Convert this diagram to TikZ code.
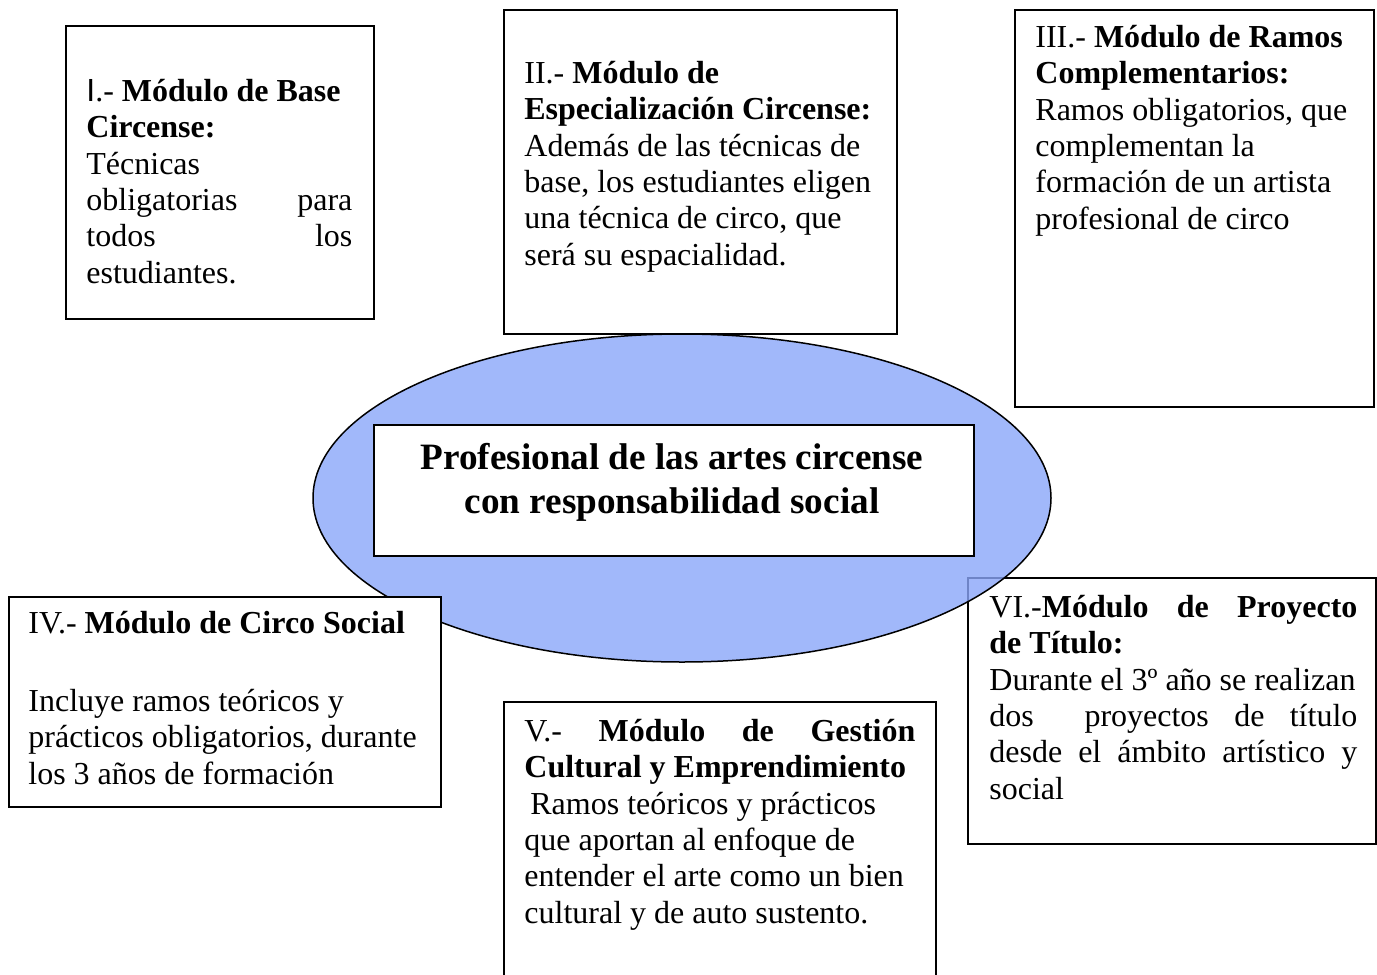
\documentclass[tikz,border=0pt]{standalone}
\usepackage{fontspec}
\setmainfont{Liberation Serif}
\newfontfamily\sanscap{Liberation Sans}
\usepackage{xcolor}
\usepackage{tikz}
\usetikzlibrary{shapes.geometric,positioning,calc}

\definecolor{ringblue}{RGB}{138,166,249}
\tikzset{
  modbox/.style={draw=black,line width=1pt,fill=white,anchor=north west,inner sep=0pt},
  modtext/.style={anchor=north west,inner sep=0pt,align=flush left,font=\fontsize{16}{18.2}\selectfont},
  titletext/.style={anchor=north,inner sep=0pt,align=center,font=\fontsize{18.6}{22}\selectfont\bfseries}
}

\begin{document}
\begin{tikzpicture}[x=0.5pt,y=-0.5pt]
            \useasboundingbox (0,0) rectangle (1377,975);
            % module VI lies under the ellipse
            \node[modbox,minimum width=204pt,minimum height=133pt] (boxVI) at (967,577) {};
            \node[modtext,text width=184pt] (txtVI) at ($(boxVI.north west)+(22,14.5)$)
              {\strut VI.-\textbf{Módulo}\hfill\textbf{de}\hfill\textbf{Proyecto}\\
               \textbf{de Título:}\\
               \mbox{Durante el 3º año se realizan}\\
               dos\hfill\hfill proyectos\hfill de\hfill título\\
               desde\hfill el\hfill ámbito\hfill artístico\hfill y\\
               social};

            % central ellipse with the profile
            \node[ellipse,draw=black,line width=0.75pt,fill=ringblue,fill opacity=0.8,
                  minimum width=369pt,minimum height=164pt] (ring) at (682,498) {};
            \node[modbox,minimum width=300pt,minimum height=65.5pt] (profile) at (373,424) {};
            \node[titletext] (profiletxt) at ($(profile.north west)+(299,14.2)$)
              {\strut Profesional de las artes circense\\ con responsabilidad social};

            % module I
            \node[modbox,minimum width=154pt,minimum height=146.5pt] (boxI) at (65,25) {};
            \node[modtext,text width=133pt] (txtI) at ($(boxI.north west)+(21,50.5)$)
              {\strut{\sanscap I}.- \textbf{Módulo de Base}\\
               \textbf{Circense:}\\
               Técnicas\\
               obligatorias\hfill para\\
               todos\hfill los\\
               estudiantes.};

            % module II
            \node[modbox,minimum width=196.5pt,minimum height=162pt] (boxII) at (503,9) {};
            \node[modtext,text width=185pt] (txtII) at ($(boxII.north west)+(21,48.5)$)
              {\strut II.- \textbf{Módulo de}\\
               \textbf{Especialización Circense:}\\
               Además de las técnicas de\\
               base, los estudiantes eligen\\
               una técnica de circo, que\\
               será su espacialidad.};

            % module III
            \node[modbox,minimum width=179.5pt,minimum height=198.5pt] (boxIII) at (1014,9) {};
            \node[modtext,text width=165pt] (txtIII) at ($(boxIII.north west)+(21,12.5)$)
              {\strut III.- \textbf{Módulo de Ramos}\\
               \textbf{Complementarios:}\\
               Ramos obligatorios, que\\
               complementan la\\
               formación de un artista\\
               profesional de circo};

            % module IV
            \node[modbox,minimum width=216pt,minimum height=105pt] (boxIV) at (8,596) {};
            \node[modtext,text width=204pt] (txtIV) at ($(boxIV.north west)+(20,11.5)$)
              {\strut IV.- \textbf{Módulo de Circo Social}\\[20.8pt]
               Incluye ramos teóricos y\\
               prácticos obligatorios, durante\\
               los 3 años de formación};

            % module V runs past the lower edge
            \node[modbox,minimum width=216pt,minimum height=145pt] (boxV) at (503,701) {};
            \node[modtext,text width=195.5pt] (txtV) at ($(boxV.north west)+(21,14.5)$)
              {\strut V.-\hfill\textbf{Módulo}\hfill\textbf{de}\hfill\textbf{Gestión}\\
               \textbf{Cultural y Emprendimiento}\\
               \hspace*{3pt}Ramos teóricos y prácticos\\
               que aportan al enfoque de\\
               entender el arte como un bien\\
               cultural y de auto sustento.};
\end{tikzpicture}
\end{document}
